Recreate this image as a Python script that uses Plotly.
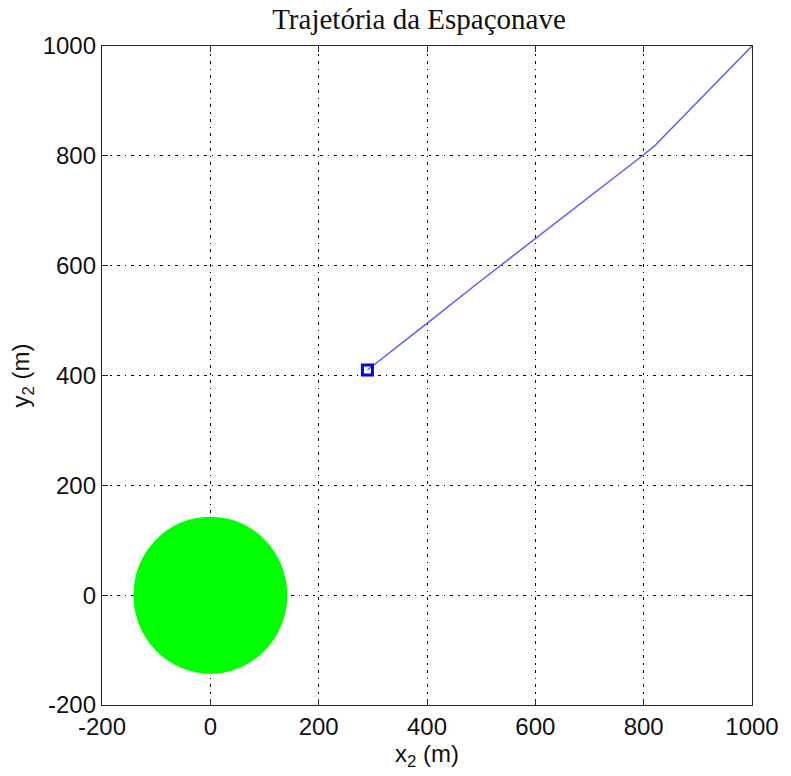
import plotly.graph_objects as go

# Spacecraft trajectory (m), from entry point to final position
traj_x = [1000, 900, 820, 800, 700, 600, 500, 400, 290]
traj_y = [1000, 899, 818, 802, 726, 650, 573, 495, 410]

# Final position marker
end_x = [290]
end_y = [410]

# Planet (centre and radius, m)
planet_cx, planet_cy = 0, 0
planet_rx, planet_ry = 142, 143

tick_vals = [-200, 0, 200, 400, 600, 800, 1000]
tick_text = ["-200", "0", "200", "400", "600", "800", "1000"]

label_font = dict(family="Liberation Sans, Arial", size=24, color="#111111")

fig = go.Figure()

fig.add_shape(
    type="circle", xref="x", yref="y",
    x0=planet_cx - planet_rx, x1=planet_cx + planet_rx,
    y0=planet_cy - planet_ry, y1=planet_cy + planet_ry,
    fillcolor="#00ff00", line=dict(width=0), layer="above",
)

fig.add_trace(go.Scatter(
    x=traj_x, y=traj_y, mode="lines",
    line=dict(color="#5a5aff", width=1.5),
    showlegend=False, hoverinfo="skip",
))
fig.add_trace(go.Scatter(
    x=end_x, y=end_y, mode="markers",
    marker=dict(symbol="square-open", size=10, color="#0000ff",
                line=dict(width=3, color="#0000ff")),
    showlegend=False,
))

axis_common = dict(
    tickvals=tick_vals, ticktext=tick_text,
    showgrid=True, gridcolor="black", gridwidth=1,
    griddash="3px,5px,1.5px,5px",
    zeroline=False,
    showline=True, linecolor="#262626", linewidth=1.3, mirror="ticks",
    ticks="inside", ticklen=6, tickcolor="#262626", tickwidth=1,
    tickfont=label_font,
)

fig.update_xaxes(
    range=[-200, 1000], **axis_common,
    title=dict(text="x<sub>2</sub> (m)", standoff=2, font=label_font),
)
fig.update_yaxes(
    range=[-200, 1000], **axis_common,
    title=dict(text="y<sub>2</sub> (m)", standoff=6, font=label_font),
)

fig.update_layout(
    width=791, height=776,
    margin=dict(l=102, r=33, t=46, b=71),
    paper_bgcolor="white", plot_bgcolor="white",
    title=dict(text="Trajetória da Espaçonave",
               x=419 / 791, xanchor="center", xref="container",
               y=1 - 19 / 776, yanchor="middle", yref="container",
               font=dict(family="Liberation Serif, Times New Roman", size=29, color="#111111")),
)

fig.write_html("out.html")
